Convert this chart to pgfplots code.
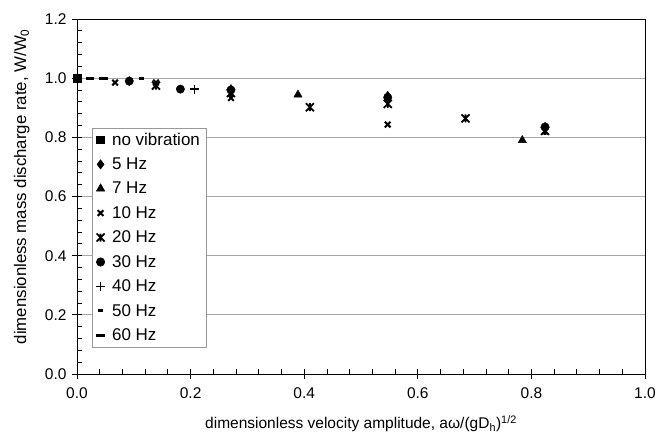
\documentclass[border=0pt]{standalone}
\usepackage{pgfplots}
\pgfplotsset{compat=1.18}
\usepackage{fontspec}
\setmainfont{Liberation Sans}
\pgfdeclareplotmark{xstar}{%
  \pgfpathmoveto{\pgfqpoint{-\pgfplotmarksize}{-\pgfplotmarksize}}%
  \pgfpathlineto{\pgfqpoint{\pgfplotmarksize}{\pgfplotmarksize}}%
  \pgfpathmoveto{\pgfqpoint{-\pgfplotmarksize}{\pgfplotmarksize}}%
  \pgfpathlineto{\pgfqpoint{\pgfplotmarksize}{-\pgfplotmarksize}}%
  \pgfpathmoveto{\pgfqpoint{0pt}{-\pgfplotmarksize}}%
  \pgfpathlineto{\pgfqpoint{0pt}{\pgfplotmarksize}}%
  \pgfusepathqstroke}
\begin{document}
\begin{tikzpicture}
\begin{axis}[
  scale only axis,
  width=568pt, height=355pt,
  xmin=0, xmax=1, ymin=0, ymax=1.2,
  xtick={0,0.2,...,1.0}, ytick={0,0.2,...,1.2},
  minor tick num=4,
  tick align=center,
  major tick length=10pt, minor tick length=5pt,
  minor x tick style={yshift=2.5pt},
  minor y tick style={xshift=2.5pt},
  xtick pos=bottom, ytick pos=left,
  ymajorgrids, major grid style={gray!70, line width=0.8pt},
  axis line style={line width=1pt},
  tick style={black, line width=0.8pt},
  /pgf/number format/assume math mode=true,
  /pgf/number format/fixed,
  /pgf/number format/fixed zerofill,
  /pgf/number format/precision=1,
  tick label style={font=\fontsize{15.5}{18}\selectfont},
  xticklabel style={yshift=-5pt},
  yticklabel style={xshift=-2pt},
  xlabel style={font=\fontsize{15.5}{18}\selectfont, at={(axis description cs:0.5,-0.14)}, anchor=center},
  ylabel style={font=\fontsize{16.8}{19}\selectfont, at={(axis description cs:-0.097,0.528)}, anchor=center},
  xlabel={dimensionless velocity amplitude, aω/(gD\textsubscript{h})\textsuperscript{1/2}},
  ylabel={dimensionless mass discharge rate, W/W\textsubscript{0}},
  legend cell align=left,
  legend image code/.code={\draw[#1] plot coordinates {(0.15cm,0cm)};},
  legend style={draw=gray!80, line width=0.6pt, at={(axis cs:0.026,0.833)}, anchor=north west,
    font=\fontsize{17}{19}\selectfont, row sep=7.1pt, inner xsep=4pt, inner ysep=3pt,
    nodes={inner xsep=2pt},
    /tikz/every odd column/.append style={column sep=5pt}},
  only marks,
  every axis plot/.append style={black, fill=black},
]
\addplot[mark=square*, mark size=3.8pt] coordinates {(0,1.0)};
\addlegendentry{no vibration}
\addplot[mark=diamond*, mark size=4.6pt] coordinates {(0.092,0.990) (0.271,0.963) (0.547,0.940) (0.824,0.835)};
\addlegendentry{5 Hz}
\addplot[mark=triangle*, mark size=4.8pt] coordinates {(0.389,0.944) (0.784,0.790)};
\addlegendentry{7 Hz}
\addplot[mark=x, mark size=4pt, line width=2pt] coordinates {(0.067,0.985) (0.139,0.985) (0.271,0.933) (0.547,0.843) (0.824,0.820)};
\addlegendentry{10 Hz}
\addplot[mark=xstar, mark size=4pt, line width=1.8pt] coordinates {(0.139,0.975) (0.271,0.950) (0.410,0.902) (0.547,0.913) (0.684,0.864) (0.824,0.822)};
\addlegendentry{20 Hz}
\addplot[mark=*, mark size=4.2pt] coordinates {(0.092,0.990) (0.182,0.963) (0.271,0.960) (0.547,0.935) (0.824,0.835)};
\addlegendentry{30 Hz}
\addplot[mark=+, mark size=4.5pt, line width=1.6pt] coordinates {(0.207,0.963)};
\addlegendentry{40 Hz}
\addplot[mark=-, mark size=2.4pt, line width=3pt] coordinates {(0.114,1.0)};
\addlegendentry{50 Hz}
\addplot[mark=-, mark size=4.3pt, line width=3pt] coordinates {(0.023,1.0) (0.047,1.0)};
\addlegendentry{60 Hz}
\end{axis}
\path ([shift={(-77pt,-66pt)}]current axis.south west) rectangle ([shift={(23pt,19pt)}]current axis.north east);
\end{tikzpicture}
\end{document}
